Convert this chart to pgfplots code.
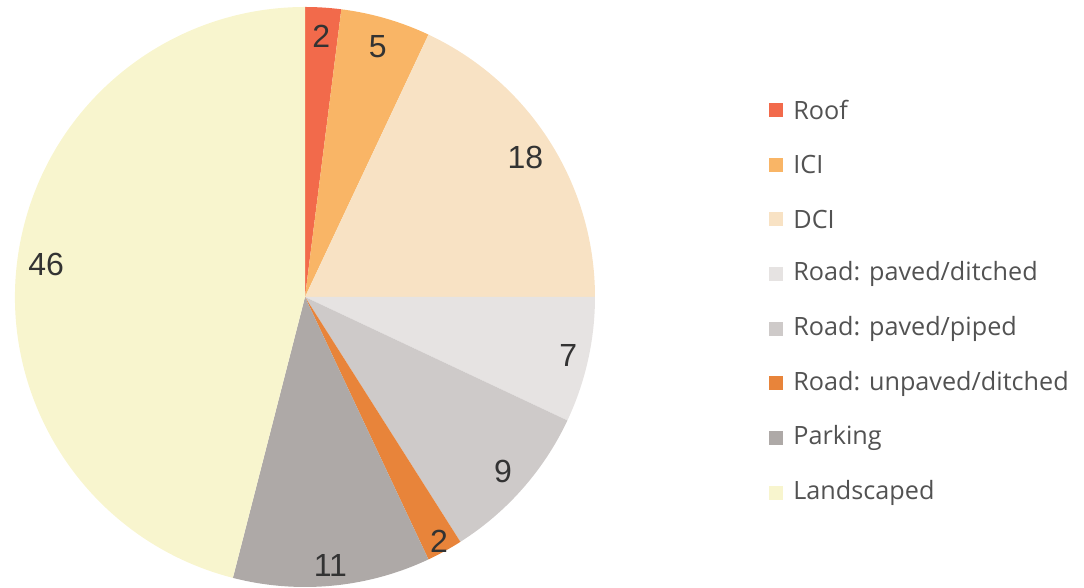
\documentclass[border=0pt]{standalone}
\usepackage{pgfplots}
\pgfplotsset{compat=1.18}
\usepackage{fontspec}
\setmainfont{Liberation Sans}
\newfontfamily\legfont{Open Sans}
\definecolor{cRoof}{HTML}{F26A4B}
\definecolor{cICI}{HTML}{F9B566}
\definecolor{cDCI}{HTML}{F8E2C4}
\definecolor{cRPD}{HTML}{E6E3E2}
\definecolor{cRPP}{HTML}{CECAC9}
\definecolor{cRUD}{HTML}{E8843A}
\definecolor{cPark}{HTML}{AEA9A7}
\definecolor{cLand}{HTML}{F8F5CE}
\definecolor{txt}{HTML}{333333}
\begin{document}
\begin{tikzpicture}
\begin{axis}[width=542pt,height=294pt,scale only axis,hide axis,
  xmin=-305,xmax=779,ymin=-291,ymax=297,clip=false]
\pgfplotsextra{
  \xdef\curang{90}
  \foreach \v/\c/\rl in {2/cRoof/0.9,5/cICI/0.9,18/cDCI/0.9,7/cRPD/0.93,9/cRPP/0.91,2/cRUD/0.96,11/cPark/0.93,46/cLand/0.9}{
    \pgfmathsetmacro{\endang}{\curang-3.6*\v}
    \pgfmathsetmacro{\midang}{(\curang+\endang)/2}
    \pgfmathsetmacro{\lx}{\rl*290*cos(\midang)}
    \pgfmathsetmacro{\ly}{\rl*290*sin(\midang)}
    \fill[\c] (axis cs:0,0) -- ++(\curang:145pt) arc[start angle=\curang, end angle=\endang, radius=145pt] -- cycle;
    \node[text=txt,font=\fontsize{16}{18}\selectfont] at (axis cs:\lx,\ly) {\v};
    \xdef\curang{\endang}
  }
  \foreach \c/\n [count=\i from 0] in {cRoof/{Roof},cICI/{ICI},cDCI/{DCI},cRPD/{Road: paved/ditched},cRPP/{Road: paved/piped},cRUD/{Road: unpaved/ditched},cPark/{Parking},cLand/{Landscaped}}{
    \pgfmathsetmacro{\yy}{297-110-54.7*\i}
    \pgfmathsetmacro{\ya}{\yy-7}
    \pgfmathsetmacro{\yb}{\yy+7}
    \fill[\c] (axis cs:464,\ya) rectangle (axis cs:478,\yb);
    \node[anchor=west,inner sep=0pt,text=txt!85!white,font=\legfont\fontsize{12.6}{14}\selectfont] at (axis cs:488,\yy) {\n};
  }
}
\end{axis}
\pgfresetboundingbox
\path (current axis.south west) rectangle (current axis.north east);
\end{tikzpicture}
\end{document}
